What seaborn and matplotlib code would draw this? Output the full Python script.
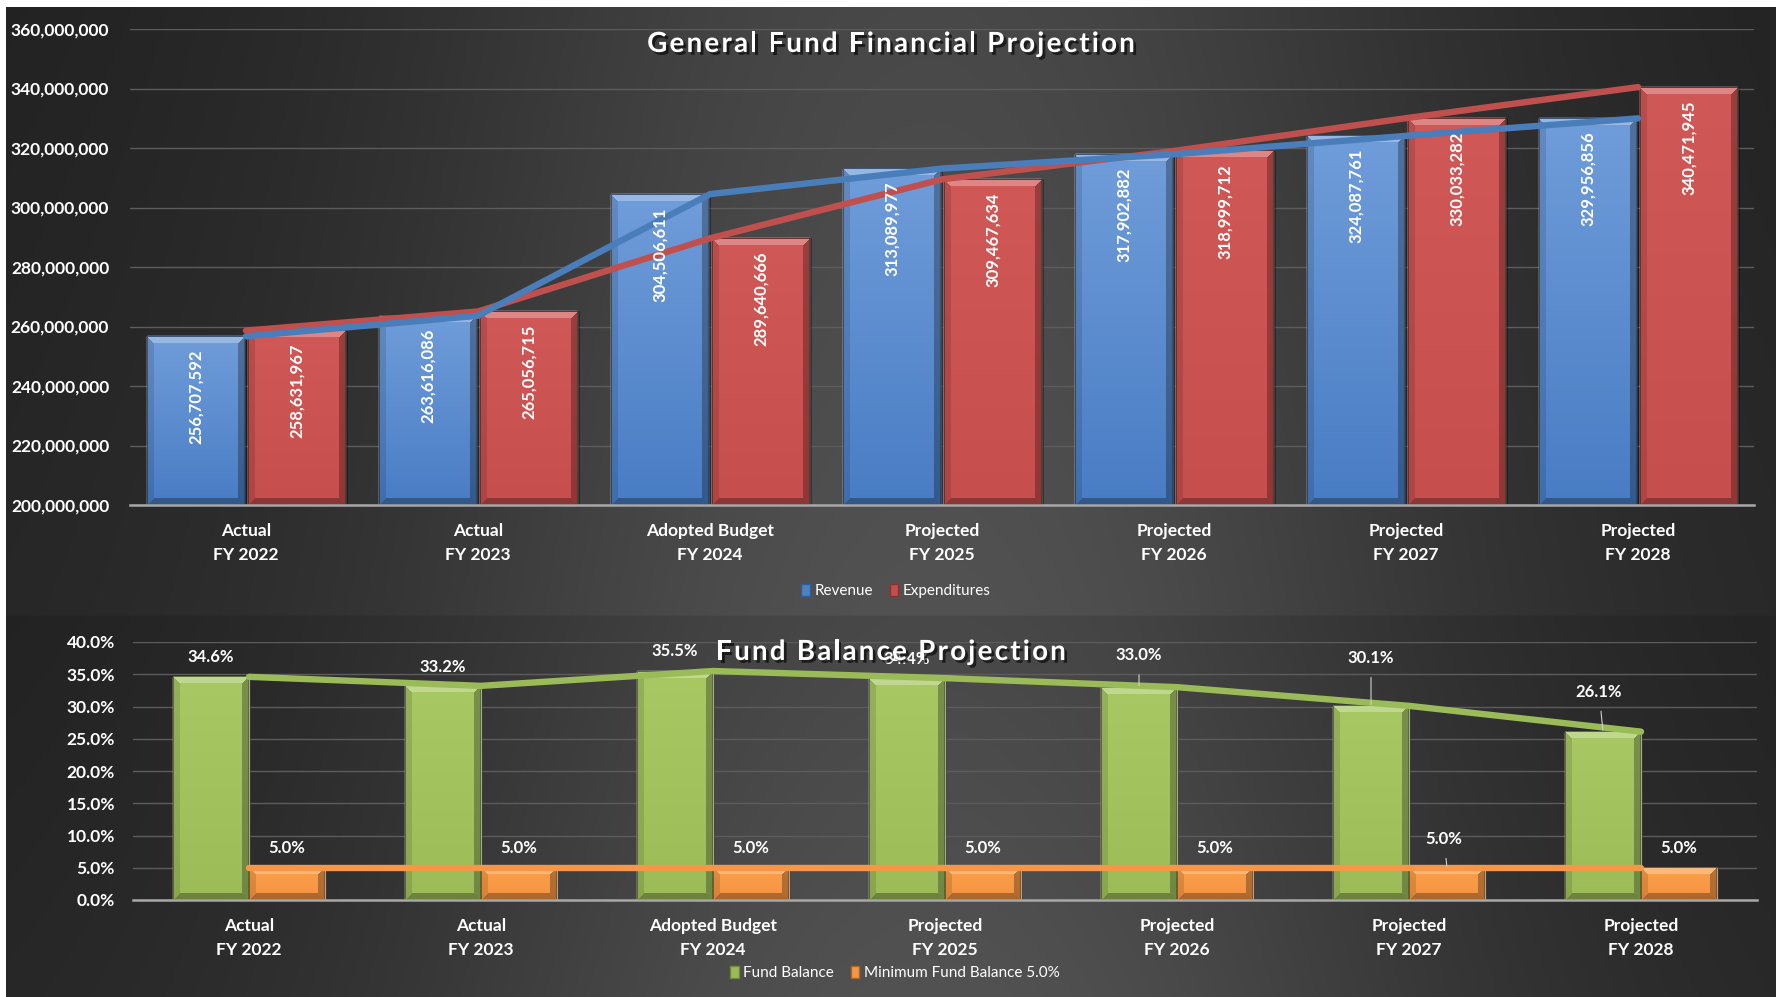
import numpy as np
import pandas as pd
import matplotlib
matplotlib.use("Agg")
import matplotlib.pyplot as plt
import matplotlib.patheffects as pe
from matplotlib.patches import Patch
from matplotlib.ticker import FuncFormatter, MultipleLocator
import seaborn as sns

# ---------------- data ----------------
categories = ["Actual\nFY 2022", "Actual\nFY 2023", "Adopted Budget\nFY 2024",
              "Projected\nFY 2025", "Projected\nFY 2026", "Projected\nFY 2027",
              "Projected\nFY 2028"]
revenue = [256707592, 263616086, 304506611, 313089977, 317902882, 324087761, 329956856]
expenditures = [258631967, 265056715, 289640666, 309467634, 318999712, 330033282, 340471945]
fund_balance = [34.6, 33.2, 35.5, 34.4, 33.0, 30.1, 26.1]
min_fund_balance = [5.0, 5.0, 5.0, 5.0, 5.0, 5.0, 5.0]
top_series = ["Revenue", "Expenditures"]
bot_series = ["Fund Balance", "Minimum Fund Balance 5.0%"]
top_title = "General Fund Financial Projection"
bot_title = "Fund Balance Projection"

# ---------------- style ----------------
sns.set_style("dark")
plt.rcParams["font.family"] = ["Lato", "DejaVu Sans"]
plt.rcParams["axes.facecolor"] = "none"

BLUE_T, BLUE_B = np.array([0x70, 0x9D, 0xDA]) / 255, np.array([0x48, 0x7C, 0xC4]) / 255
RED_T, RED_B = np.array([0xD0, 0x58, 0x56]) / 255, np.array([0xC6, 0x4E, 0x4C]) / 255
GRN_T, GRN_B = np.array([0xA8, 0xC8, 0x64]) / 255, np.array([0x9C, 0xBC, 0x58]) / 255
ORG_T, ORG_B = np.array([0xFB, 0xA0, 0x4C]) / 255, np.array([0xF5, 0x93, 0x40]) / 255

W_PX, H_PX = 1776, 997
fig = plt.figure(figsize=(W_PX / 100, H_PX / 100), dpi=100)

# ---------------- background ----------------
bg = fig.add_axes([0, 0, 1, 1], zorder=-10)
img = np.ones((H_PX, W_PX, 3))
xs = np.arange(W_PX)
g = np.exp(-((xs - 930) / 540.0) ** 2)
for (r0, r1) in [(8, 616), (616, H_PX)]:
    rows = np.arange(r0, r1)
    yf = (rows - r0) / (r1 - r0)
    v = (37 + 45 * g[None, :]) * (0.88 + 0.12 * yf[:, None]) / 255
    img[r0:r1, 6:, :] = v[:, 6:, None]
bg.imshow(img, extent=(0, 1, 0, 1), aspect="auto", interpolation="bilinear")
bg.set_axis_off()


def bevel_bars(ax, container, ctop, cbot, bevel=7):
    ax.figure.canvas.draw()
    ylo, yhi = ax.get_ylim()
    xl = ax.get_xlim()
    for rect in container.patches:
        x0, y0 = rect.get_x(), rect.get_y()
        w, h = rect.get_width(), rect.get_height()
        y0c = max(y0, ylo)
        y1 = y0 + h
        (px0, py0) = ax.transData.transform((x0, y0c))
        (px1, py1) = ax.transData.transform((x0 + w, y1))
        Wb, Hb = max(int(round(px1 - px0)), 2), max(int(round(py1 - py0)), 2)
        yy, xx = np.mgrid[0:Hb, 0:Wb].astype(float)
        t = (yy / max(Hb - 1, 1))[..., None]
        base = ctop[None, None, :] * (1 - t) + cbot[None, None, :] * t
        d = np.stack([yy + 0.5, xx + 0.5, Wb - xx - 0.5, Hb - yy - 0.5])
        m = d.argmin(0)
        dmin = d.min(0)
        inb = dmin < bevel
        out = base.copy()
        top = inb & (m == 0)
        out[top] = base[top] + (1 - base[top]) * 0.28
        left = inb & (m == 1)
        out[left] = base[left] * 0.88
        right = inb & (m == 2)
        out[right] = base[right] * 0.72
        bot = inb & (m == 3)
        out[bot] = base[bot] * 0.7
        edge = dmin < 1.2
        out[edge] = base[edge] * 0.55
        ax.imshow(np.clip(out, 0, 1), extent=(x0, x0 + w, y0c, y1), aspect="auto",
                  zorder=2.1, interpolation="nearest")
        sh = plt.Rectangle((x0 + w, y0c), w * 0.03, y1 - y0c, color="black", alpha=0.35,
                           zorder=1.9, lw=0)
        ax.add_patch(sh)
    ax.set_ylim(ylo, yhi)
    ax.set_xlim(xl)


def style_axes(ax, ypad):
    for s in ["top", "right", "left"]:
        ax.spines[s].set_visible(False)
    ax.spines["bottom"].set_color("#a8a8a8")
    ax.spines["bottom"].set_linewidth(1.8)
    ax.spines["bottom"].set_zorder(5)
    ax.grid(axis="y", color="#5c5c5c", lw=1.0)
    ax.grid(axis="x", visible=False)
    ax.set_axisbelow(True)
    ax.tick_params(axis="both", length=0, colors="white")
    ax.tick_params(axis="x", pad=13, labelsize=12.5)
    ax.tick_params(axis="y", pad=ypad, labelsize=12.5)
    for lab in ax.get_xticklabels() + ax.get_yticklabels():
        lab.set_fontweight("bold")
        lab.set_color("white")
    for lab in ax.get_xticklabels():
        lab.set_linespacing(1.6)
    ax.set_xlabel("")
    ax.set_ylabel("")


def spaced_title(s, xc_px, baseline_px, spacing_px, **kw):
    r = fig.canvas.get_renderer()

    def width(t):
        tt = fig.text(0, 0, t, **kw)
        wdt = tt.get_window_extent(r).width
        tt.remove()
        return wdt

    total = width(s) + spacing_px * (len(s) - 1)
    x0 = xc_px - total / 2
    shadow = [pe.withSimplePatchShadow(offset=(2, -2), shadow_rgbFace="black", alpha=0.6)]
    for i, c in enumerate(s):
        if c == " ":
            continue
        left = width(s[:i + 1]) - width(c) + i * spacing_px
        fig.text((x0 + left) / W_PX, 1 - baseline_px / H_PX, c, ha="left", va="baseline",
                 path_effects=shadow, **kw)


# ================= top chart =================
ax1 = fig.add_axes([130 / W_PX, 1 - 505 / H_PX, 1624 / W_PX, 476 / H_PX])
df_top = pd.DataFrame({
    "category": categories * 2,
    "series": [top_series[0]] * len(categories) + [top_series[1]] * len(categories),
    "value": revenue + expenditures,
})
sns.barplot(data=df_top, x="category", y="value", hue="series", order=categories,
            hue_order=top_series, palette=["#5A8ACF", "#C9504E"], width=0.87, gap=0.03,
            errorbar=None, saturation=1, legend=False, ax=ax1)
ax1.set_ylim(200_000_000, 360_000_000)
ax1.set_xlim(-0.5, len(categories) - 0.5)
ax1.yaxis.set_major_locator(MultipleLocator(20_000_000))
ax1.yaxis.set_major_formatter(FuncFormatter(lambda v, p: f"{v:,.0f}"))
style_axes(ax1, ypad=15)

bevel_bars(ax1, ax1.containers[0], BLUE_T, BLUE_B)
bevel_bars(ax1, ax1.containers[1], RED_T, RED_B)

xpos = np.arange(len(categories))
sns.lineplot(x=xpos, y=expenditures, color="#C0504D", lw=4.6, ax=ax1, zorder=4,
             solid_capstyle="round", legend=False)
sns.lineplot(x=xpos, y=revenue, color="#4A7EBB", lw=4.6, ax=ax1, zorder=4.1,
             solid_capstyle="round", legend=False)
ax1.set_xlim(-0.5, len(categories) - 0.5)
ax1.set_ylim(200_000_000, 360_000_000)
ax1.set_xlabel("")
ax1.set_ylabel("")

for cont in ax1.containers[:2]:
    for rect in cont.patches:
        v = rect.get_height()
        ax1.annotate(f"{v:,.0f}", (rect.get_x() + rect.get_width() / 2, v),
                     xytext=(0, -9.5), textcoords="offset points", rotation=90,
                     ha="center", va="top", color="white", fontsize=12,
                     fontweight="bold", zorder=6)

spaced_title(top_title, 891, 52, 2.2, fontsize=20, fontweight="bold", color="white")

h_top = [Patch(facecolor="#4F81BD", edgecolor="#2f5f9a"),
         Patch(facecolor="#C0504D", edgecolor="#8a3030")]
fig.legend(h_top, top_series, loc="center", bbox_to_anchor=(896 / W_PX, 1 - 591 / H_PX),
           ncol=2, frameon=False, fontsize=11, labelcolor="white", handlelength=0.55,
           handleheight=0.9, handletextpad=0.3, columnspacing=1.1)

# ================= bottom chart =================
ax2 = fig.add_axes([133 / W_PX, 1 - 900 / H_PX, 1624 / W_PX, 258 / H_PX])
df_bot = pd.DataFrame({
    "category": categories * 2,
    "series": [bot_series[0]] * len(categories) + [bot_series[1]] * len(categories),
    "value": fund_balance + min_fund_balance,
})
sns.barplot(data=df_bot, x="category", y="value", hue="series", order=categories,
            hue_order=bot_series, palette=["#9BBB59", "#F79646"], width=0.655, gap=0.0,
            errorbar=None, saturation=1, legend=False, ax=ax2)
ax2.set_ylim(0, 40)
ax2.set_xlim(-0.5, len(categories) - 0.5)
ax2.yaxis.set_major_locator(MultipleLocator(5))
ax2.yaxis.set_major_formatter(FuncFormatter(lambda v, p: f"{v:.1f}%"))
style_axes(ax2, ypad=13)

bevel_bars(ax2, ax2.containers[0], GRN_T, GRN_B)
bevel_bars(ax2, ax2.containers[1], ORG_T, ORG_B)

sns.lineplot(x=xpos, y=fund_balance, color="#9BBB59", lw=4.6, ax=ax2, zorder=4,
             solid_capstyle="round", legend=False)
sns.lineplot(x=xpos, y=min_fund_balance, color="#F79646", lw=4.6, ax=ax2, zorder=4,
             solid_capstyle="round", legend=False)
ax2.set_xlim(-0.5, len(categories) - 0.5)
ax2.set_ylim(0, 40)
ax2.set_xlabel("")
ax2.set_ylabel("")

# label offsets in pixels (dx, dy) from bar-top centre
fb_off = [(0, 20), (0, 19), (0, 20), (0, 19), (0, 32), (0, 48), (-4, 40)]
mn_off = [(0, 20), (0, 20), (0, 20), (0, 20), (0, 20), (-3, 29), (0, 20)]
for cont, offs in [(ax2.containers[0], fb_off), (ax2.containers[1], mn_off)]:
    for rect, (dx, dy) in zip(cont.patches, offs):
        v = rect.get_height()
        xy = (rect.get_x() + rect.get_width() / 2, v)
        kw = {}
        if dy > 25:
            kw["arrowprops"] = dict(arrowstyle="-", color="#d0d0d0", lw=0.8,
                                    shrinkA=6, shrinkB=1)
        ax2.annotate(f"{v:.1f}%", xy, xytext=(dx * 0.72, dy * 0.72),
                     textcoords="offset points", ha="center", va="center",
                     color="white", fontsize=12, fontweight="bold", zorder=6, **kw)

spaced_title(bot_title, 891, 660, 2.2, fontsize=20, fontweight="bold", color="white")

h_bot = [Patch(facecolor="#9BBB59", edgecolor="#6f8a3a"),
         Patch(facecolor="#F79646", edgecolor="#b0651f")]
fig.legend(h_bot, bot_series, loc="center", bbox_to_anchor=(895 / W_PX, 1 - 973 / H_PX),
           ncol=2, frameon=False, fontsize=11, labelcolor="white", handlelength=0.55,
           handleheight=0.9, handletextpad=0.3, columnspacing=1.1)

fig.savefig("out.png", dpi=100)
